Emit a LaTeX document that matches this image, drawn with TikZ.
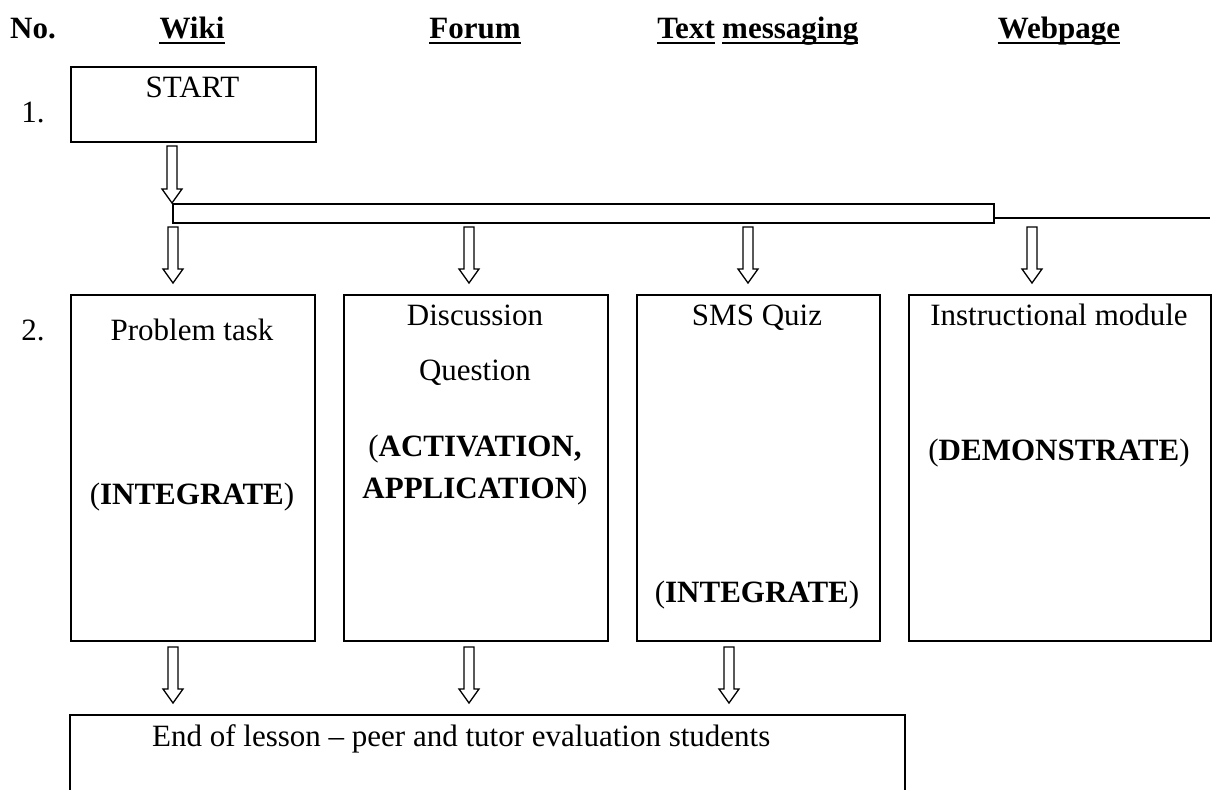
\documentclass[tikz,border=0pt]{standalone}
\usepackage{fontspec}
\setmainfont{Liberation Serif}
% hollow block arrow pointing down: x, top y, tip y
\newcommand\blockdown[3]{%
  \draw[blockarrow] (#1-5,#2) -- (#1+5,#2) -- (#1+5,#3-14) -- (#1+10,#3-14)
    -- (#1,#3) -- (#1-10,#3-14) -- (#1-5,#3-14) -- cycle;}
\begin{document}
\begin{tikzpicture}[x=1pt,y=-1pt,
  box/.style={draw, line width=2.4pt, inner sep=0pt, anchor=north west},
  txt/.style={font=\fontsize{31}{36}\selectfont, inner sep=0pt, anchor=base},
  hdr/.style={font=\fontsize{31}{36}\selectfont\bfseries, inner sep=0pt, anchor=base},
  uline/.style={line width=2.7pt},
  blockarrow/.style={draw, line width=1.3pt, fill=white, line join=miter}]
\useasboundingbox (0,0) rectangle (1219,790);

% column headings, centred over their columns
\node[hdr] (no) at (33,38) {No.};
\node[hdr] (wiki) at (192,38) {Wiki};
\node[hdr] (forum) at (475,38) {Forum};
\node[hdr, anchor=base east] (text) at (715,38) {Text};
\node[hdr, anchor=base west] (msg) at (722,38) {messaging};
\node[hdr] (web) at (1059,38) {Webpage};
\foreach \h in {wiki,forum,text,msg,web}
  \draw[uline] ([yshift=-5pt]\h.base west) -- ([yshift=-5pt]\h.base east);

% step 1
\node[txt] (one) at (33,122) {1.};
\node[box, minimum width=245pt, minimum height=75pt] (start) at (70,66) {};
\node[txt] (starttxt) at (192.5,97) {START};

% splitter bar and its run-out line
\blockdown{172}{146}{203}
\node[box, line width=1.5pt, minimum width=821pt, minimum height=19pt] (bar) at (172,203) {};
\coordinate (lineend) at (1210,218);
\draw[line width=2pt] (bar.east |- lineend) -- (lineend);

\blockdown{173}{227}{283}
\blockdown{469}{227}{283}
\blockdown{748}{227}{283}
\blockdown{1032}{227}{283}

% step 2
\node[txt] (two) at (33,340) {2.};
\node[box, minimum width=244pt, minimum height=346pt] (b1) at (70,294) {};
\node[box, minimum width=264pt, minimum height=346pt] (b2) at (343,294) {};
\node[box, minimum width=243pt, minimum height=346pt] (b3) at (636,294) {};
\node[box, minimum width=302pt, minimum height=346pt] (b4) at (908,294) {};

\node[txt] (t1a) at (192,340) {Problem task};
\node[txt] (t1b) at (192,504) {(\textbf{INTEGRATE})};

\node[txt] (t2a) at (475,325) {Discussion};
\node[txt] (t2b) at (475,380) {Question};
\node[txt] (t2c) at (475,456) {(\textbf{ACTIVATION,}};
\node[txt] (t2d) at (475,498) {\textbf{APPLICATION})};

\node[txt] (t3a) at (757,325) {SMS Quiz};
\node[txt] (t3b) at (757,602) {(\textbf{INTEGRATE})};

\node[txt] (t4a) at (1059,325) {Instructional module};
\node[txt] (t4b) at (1059,460) {(\textbf{DEMONSTRATE})};

\blockdown{173}{647}{703}
\blockdown{469}{647}{703}
\blockdown{729}{647}{703}

% closing step, running off the page
\draw[line width=2.4pt] (70,800) -- (70,715) -- (905,715) -- (905,800);
\coordinate (endbox) at (70,715);
\node[txt, anchor=base west] (endtxt) at (152,746) {End of lesson -- peer and tutor evaluation students};
\end{tikzpicture}
\end{document}
